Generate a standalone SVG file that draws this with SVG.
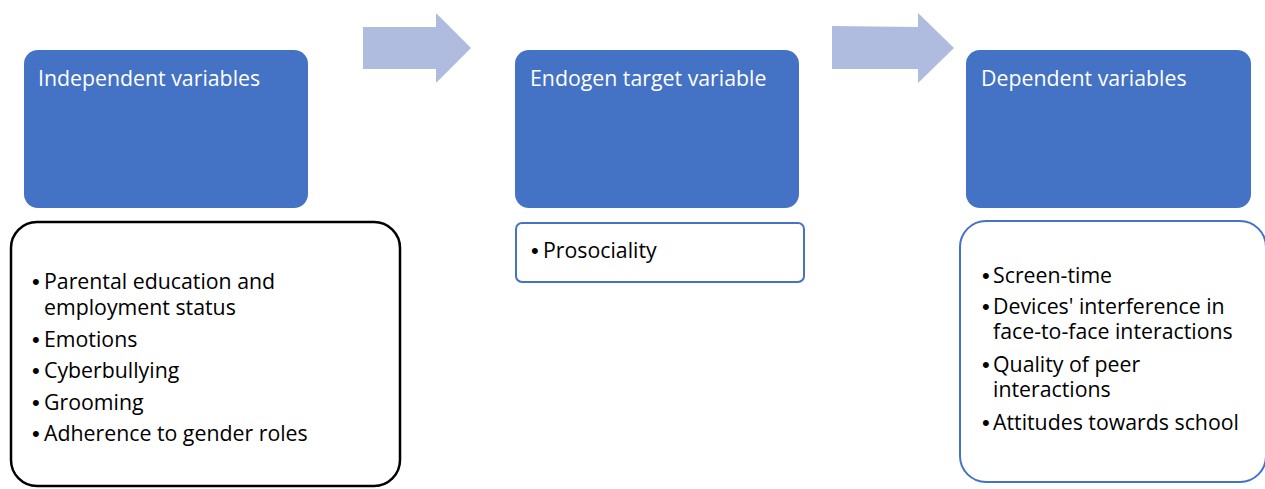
<svg xmlns="http://www.w3.org/2000/svg" width="1265" height="489" viewBox="0 0 1265 489">
<style>
.hdr{fill:#4472C4;}
.title{font-family:"Open Sans","Liberation Sans",sans-serif;font-size:21.3px;fill:#FFFFFF;}
.body{font-family:"Open Sans","Liberation Sans",sans-serif;font-size:21.3px;fill:#000000;}
.b{font-family:"Liberation Sans",sans-serif;font-size:22px;}
.arrow{fill:#AFBCDF;}
</style>
<rect width="1265" height="489" fill="#FFFFFF"/>
<g id="connectors">
<polygon class="arrow" points="363,27 436,27 436,13 471,48 436,83 436,69 363,69"/>
<polygon class="arrow" points="832,26 918,27 918,13 954,48 918,83 918,69 832,69"/>
</g>
<g id="independent-header">
<rect class="hdr" x="24" y="50" width="284" height="158" rx="14"/>
<text class="title" x="38" y="86">Independent variables</text>
</g>
<g id="independent-list">
<rect x="11" y="222" width="389" height="264" rx="26" fill="#FFFFFF" stroke="#000000" stroke-width="2.5"/>
<text class="body">
<tspan class="b" x="32" y="289">•</tspan><tspan x="44" y="289">Parental education and</tspan>
<tspan x="44" y="315">employment status</tspan>
<tspan class="b" x="32" y="347">•</tspan><tspan x="44" y="347">Emotions</tspan>
<tspan class="b" x="32" y="378">•</tspan><tspan x="44" y="378">Cyberbullying</tspan>
<tspan class="b" x="32" y="410">•</tspan><tspan x="44" y="410">Grooming</tspan>
<tspan class="b" x="32" y="441">•</tspan><tspan x="44" y="441">Adherence to gender roles</tspan>
</text>
</g>
<g id="endogen-header">
<rect class="hdr" x="515" y="50" width="284" height="158" rx="14"/>
<text class="title" x="530" y="86">Endogen target variable</text>
</g>
<g id="endogen-list">
<rect x="516" y="223" width="288" height="59" rx="6" fill="#FFFFFF" stroke="#4472C4" stroke-width="2"/>
<text class="body"><tspan class="b" x="531" y="258">•</tspan><tspan x="543" y="258">Prosociality</tspan></text>
</g>
<g id="dependent-header">
<rect class="hdr" x="966" y="50" width="285" height="158" rx="14"/>
<text class="title" x="981" y="86">Dependent variables</text>
</g>
<g id="dependent-list">
<rect x="960" y="221" width="306" height="261" rx="26" fill="#FFFFFF" stroke="#4472C4" stroke-width="2"/>
<text class="body">
<tspan class="b" x="982" y="283">•</tspan><tspan x="993" y="283">Screen-time</tspan>
<tspan class="b" x="982" y="314">•</tspan><tspan x="993" y="314">Devices' interference in</tspan>
<tspan x="993" y="339">face-to-face interactions</tspan>
<tspan class="b" x="982" y="372">•</tspan><tspan x="993" y="372">Quality of peer</tspan>
<tspan x="993" y="397">interactions</tspan>
<tspan class="b" x="982" y="430">•</tspan><tspan x="993" y="430">Attitudes towards school</tspan>
</text>
</g>
</svg>
